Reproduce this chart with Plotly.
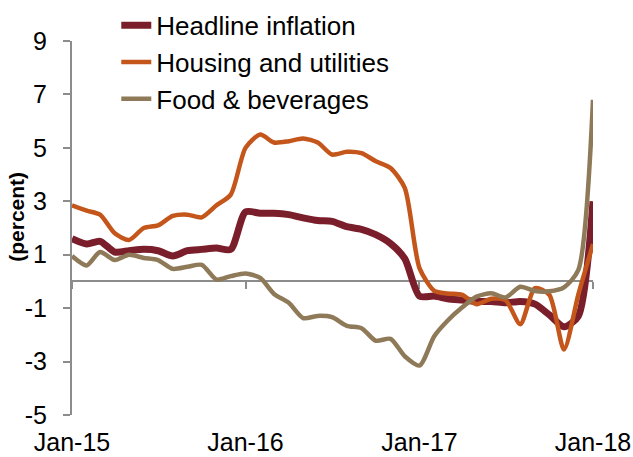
import pandas as pd
import plotly.graph_objects as go

months = pd.date_range("2015-01-01", "2018-01-01", freq="MS")

headline = [1.6, 1.4, 1.5, 1.1, 1.15, 1.2, 1.15, 0.95, 1.15, 1.2, 1.25, 1.2,
            2.6, 2.55, 2.55, 2.5, 2.38, 2.28, 2.25, 2.05, 1.95, 1.75, 1.42, 0.85,
            -0.55, -0.55, -0.65, -0.7, -0.75, -0.75, -0.8, -0.75, -0.85, -1.25, -1.7, -1.3,
            3.0]
housing = [2.85, 2.65, 2.5, 1.8, 1.55, 2.0, 2.1, 2.45, 2.5, 2.4, 2.85, 3.25,
           5.0, 5.5, 5.2, 5.25, 5.35, 5.2, 4.75, 4.85, 4.8, 4.5, 4.25, 3.5,
           0.5, -0.35, -0.45, -0.5, -0.85, -0.65, -0.7, -1.6, -0.25, -0.5, -2.55, -0.5,
           1.4]
food = [0.95, 0.6, 1.1, 0.8, 1.0, 0.88, 0.8, 0.47, 0.55, 0.62, 0.07, 0.2,
        0.3, 0.13, -0.47, -0.8, -1.37, -1.29, -1.34, -1.66, -1.75, -2.22, -2.15, -2.8,
        -3.15, -2.05, -1.47, -0.97, -0.57, -0.44, -0.6, -0.2, -0.36, -0.37, -0.22, 0.42,
        6.8]

series_names = ["Headline inflation", "Housing and utilities", "Food & beverages"]
series_values = [headline, housing, food]
colors = ["#7B1E2B", "#C4561B", "#8E7A58"]
widths = [7, 4.5, 4.5]

y_min, y_max, y_step = -5, 9, 2
y_tickvals = list(range(y_min, y_max + 1, y_step))
y_ticktext = [str(v) for v in y_tickvals]  # plain hyphen-minus as in the original
tick_dates = ["2015-01-01", "2016-01-01", "2017-01-01", "2018-01-01"]
tick_text = ["Jan-15", "Jan-16", "Jan-17", "Jan-18"]
y_title = "(percent)"
axis_grey = "#8C8C8C"
font_family = "Liberation Sans, Arial, sans-serif"

fig = go.Figure()
for name, vals, col, w in zip(series_names, series_values, colors, widths):
    fig.add_trace(go.Scatter(
        x=months, y=vals, name=name, mode="lines",
        line=dict(color=col, width=w, shape="spline", smoothing=0.7),
        hoverinfo="skip",
    ))

# invisible trace carrying the zero-crossing axis
fig.add_trace(go.Scatter(x=months, y=[None] * len(months), xaxis="x2",
                         showlegend=False, hoverinfo="skip"))

x_range = [months[0], months[-1]]
zero_pos = (0 - y_min) / (y_max - y_min)

fig.update_layout(
    width=633, height=457,
    margin=dict(l=72, r=40, t=41, b=42, autoexpand=False),
    paper_bgcolor="white", plot_bgcolor="white",
    font=dict(family=font_family, color="black", size=25),
    showlegend=True,
    legend=dict(
        x=0.085, y=1.105, xanchor="left", yanchor="top",
        font=dict(size=26), bgcolor="rgba(0,0,0,0)",
        itemwidth=30, tracegroupgap=0,
    ),
    xaxis=dict(
        range=x_range, tickmode="array", tickvals=tick_dates, ticktext=tick_text,
        showline=False, ticks="", showgrid=False, zeroline=False, automargin=False,
        tickfont=dict(size=25), ticklabelstandoff=10,
    ),
    xaxis2=dict(
        range=x_range, overlaying="x", anchor="free", position=zero_pos, side="bottom",
        tickmode="array", tickvals=tick_dates, showticklabels=False, automargin=False,
        showline=True, linecolor=axis_grey, linewidth=2,
        ticks="outside", ticklen=7, tickwidth=2, tickcolor=axis_grey,
        showgrid=False, zeroline=False, layer="below traces",
    ),
    yaxis=dict(
        range=[y_min, y_max], tickmode="array", tickvals=y_tickvals, ticktext=y_ticktext,
        showline=True, linecolor=axis_grey, linewidth=2, automargin=False,
        ticks="outside", ticklen=7, tickwidth=2, tickcolor=axis_grey,
        showgrid=False, zeroline=False,
        tickfont=dict(size=25), ticklabelstandoff=11,
    ),
    annotations=[dict(
        text=f"<b>{y_title}</b>", textangle=-90, showarrow=False,
        xref="paper", yref="paper", x=0, y=0.53, xanchor="center", yanchor="middle",
        xshift=-55, font=dict(size=21, color="black"),
    )],
)

fig.write_html("out.html")
